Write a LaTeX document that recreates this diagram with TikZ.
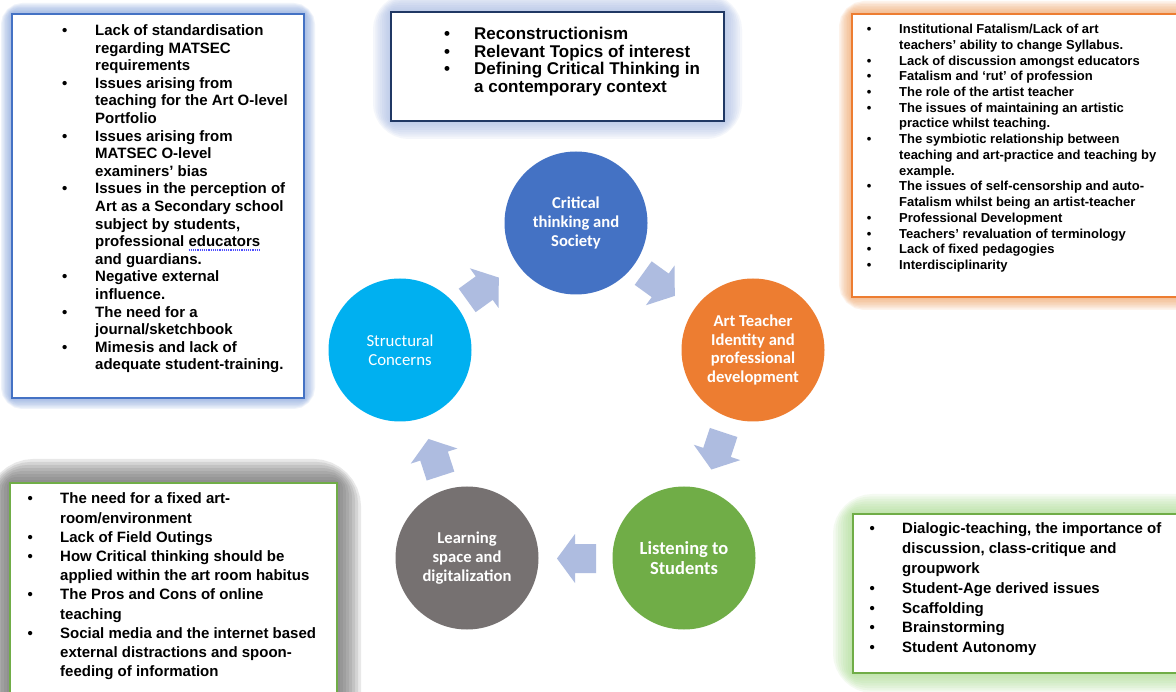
\documentclass[tikz,border=0pt]{standalone}
\usepackage{fontspec}
\setmainfont{Liberation Sans}
\newfontfamily\cali{Carlito}
\definecolor{cblue}{HTML}{4472C4}
\definecolor{ccyan}{HTML}{00B0F0}
\definecolor{corange}{HTML}{ED7D31}
\definecolor{cgreen}{HTML}{70AD47}
\definecolor{cgray}{HTML}{767171}
\definecolor{arrowc}{RGB}{174,188,224}
\definecolor{navy}{RGB}{32,56,100}
\definecolor{glowblue}{HTML}{7F9FDB}
\definecolor{glowlblue}{HTML}{9DB3E0}
\definecolor{gloworange}{HTML}{F0A060}
\definecolor{glowgray}{HTML}{707070}
\definecolor{glowgreen}{HTML}{A0D880}
\newcommand{\glowrect}[5]{\foreach \k in {1,...,8}{\draw[#1, line width={2*#2*\k/8}, opacity=#5, rounded corners={#2*\k/8}] #3 rectangle #4;}}
\newcommand{\bu}{\textbullet}
\tikzset{
  circ/.style={circle, minimum size=143pt, inner sep=0pt, text=white, align=center, font=\cali\bfseries\fontsize{16.6}{18.7}\selectfont},
  listtext/.style={anchor=base west, inner sep=0pt, text=black},
  cyc/.pic={\fill[arrowc] (-19.5,-14.5) -- (1.5,-14.5) -- (1.5,-24.5) -- (19.5,0) -- (1.5,24.5) -- (1.5,14.5) -- (-19.5,14.5) -- cycle;}
}
\begin{document}
\begin{tikzpicture}[x=1pt,y=-1pt]
\useasboundingbox (0,0) rectangle (1176,692);
\clip (0,0) rectangle (1176,692);
\fill[white] (0,0) rectangle (1176,692);

% ---- glows ----
\glowrect{glowblue}{11}{(12,14)}{(304,398)}{0.12}
\glowrect{glowlblue}{18}{(391,12)}{(724,121)}{0.11}
\glowrect{gloworange}{13}{(852,14)}{(1200,297)}{0.12}
\glowrect{glowgray}{24}{(10,483)}{(337,720)}{0.16}
\glowrect{glowgreen}{20}{(853,514)}{(1200,673)}{0.11}

% ---- boxes ----
\draw[cblue, line width=2.4, fill=white] (12,14) rectangle (304,398);
\draw[navy, line width=2, fill=white] (391,12) rectangle (724,121);
\draw[corange, line width=2.6, fill=white] (852,14) rectangle (1200,297);
\draw[cgreen, line width=2.6, fill=white] (10,483) rectangle (337,720);
\draw[cgreen, line width=2.6, fill=white] (853,514) rectangle (1200,673);

% ---- box texts ----
\node[listtext, font=\fontsize{15}{17.6}\selectfont\bfseries] (tltext) at (62,35.6) {\begin{tabular}[t]{@{}p{33pt}@{}l@{}}
\bu & Lack of standardisation\\
 & regarding MATSEC\\
 & requirements\\
\bu & Issues arising from\\
 & teaching for the Art O-level\\
 & Portfolio\\
\bu & Issues arising from\\
 & MATSEC O-level\\
 & examiners’ bias\\
\bu & Issues in the perception of\\
 & Art as a Secondary school\\
 & subject by students,\\
 & professional educators\\
 & and guardians.\\
\bu & Negative external\\
 & influence.\\
\bu & The need for a\\
 & journal/sketchbook\\
\bu & Mimesis and lack of\\
 & adequate student-training.
\end{tabular}};
\draw[blue!70!white, densely dotted, line width=1.2] (188.5,250) -- (260,250);

\node[listtext, font=\fontsize{17}{17.6}\selectfont\bfseries] (tmtext) at (444,39.5) {\begin{tabular}[t]{@{}p{30pt}@{}l@{}}
\bu & Reconstructionism\\
\bu & Relevant Topics of interest\\
\bu & Defining Critical Thinking in\\
 & a contemporary context
\end{tabular}};

\node[listtext, font=\fontsize{13}{15.73}\selectfont\bfseries] (trtext) at (866.7,33.6) {\begin{tabular}[t]{@{}p{32.3pt}@{}l@{}}
\bu & Institutional Fatalism/Lack of art\\
 & teachers’ ability to change Syllabus.\\
\bu & Lack of discussion amongst educators\\
\bu & Fatalism and ‘rut’ of profession\\
\bu & The role of the artist teacher\\
\bu & The issues of maintaining an artistic\\
 & practice whilst teaching.\\
\bu & The symbiotic relationship between\\
 & teaching and art-practice and teaching by\\
 & example.\\
\bu & The issues of self-censorship and auto-\\
 & Fatalism whilst being an artist-teacher\\
\bu & Professional Development\\
\bu & Teachers’ revaluation of terminology\\
\bu & Lack of fixed pedagogies\\
\bu & Interdisciplinarity
\end{tabular}};

\node[listtext, font=\fontsize{15}{19.2}\selectfont\bfseries] (bltext) at (27.4,503.9) {\begin{tabular}[t]{@{}p{32.6pt}@{}l@{}}
\bu & The need for a fixed art-\\
 & room/environment\\
\bu & Lack of Field Outings\\
\bu & How Critical thinking should be\\
 & applied within the art room habitus\\
\bu & The Pros and Cons of online\\
 & teaching\\
\bu & Social media and the internet based\\
 & external distractions and spoon-\\
 & feeding of information
\end{tabular}};

\node[listtext, font=\fontsize{15}{19.8}\selectfont\bfseries] (brtext) at (869.4,533.9) {\begin{tabular}[t]{@{}p{32.6pt}@{}l@{}}
\bu & Dialogic-teaching, the importance of\\
 & discussion, class-critique and\\
 & groupwork\\
\bu & Student-Age derived issues\\
\bu & Scaffolding\\
\bu & Brainstorming\\
\bu & Student Autonomy
\end{tabular}};

% ---- cycle arrows ----
\pic[rotate=35.8] at (483,289) {cyc};
\pic[rotate=-35.8] at (659,284.5) {cyc};
\pic[rotate=-108.3] at (717.5,451) {cyc};
\pic[rotate=180] at (576.5,558.5) {cyc};
\pic[rotate=108] at (434.5,457.5) {cyc};

% ---- circles ----
\node[circ, fill=cblue] (crit) at (576,223) {Critical\\thinking and\\Society};
\node[circ, fill=corange] (art) at (753,350) {Art Teacher\\Identity and\\professional\\development};
\node[circ, fill=cgreen, font=\cali\bfseries\fontsize{18.5}{20}\selectfont] (listen) at (684,558) {Listening to\\Students};
\node[circ, fill=cgray] (learn) at (467,558) {Learning\\space and\\digitalization};
\node[circ, fill=ccyan, font=\cali\fontsize{16.8}{18.7}\selectfont] (struct) at (400,350) {Structural\\Concerns};
\end{tikzpicture}
\end{document}
